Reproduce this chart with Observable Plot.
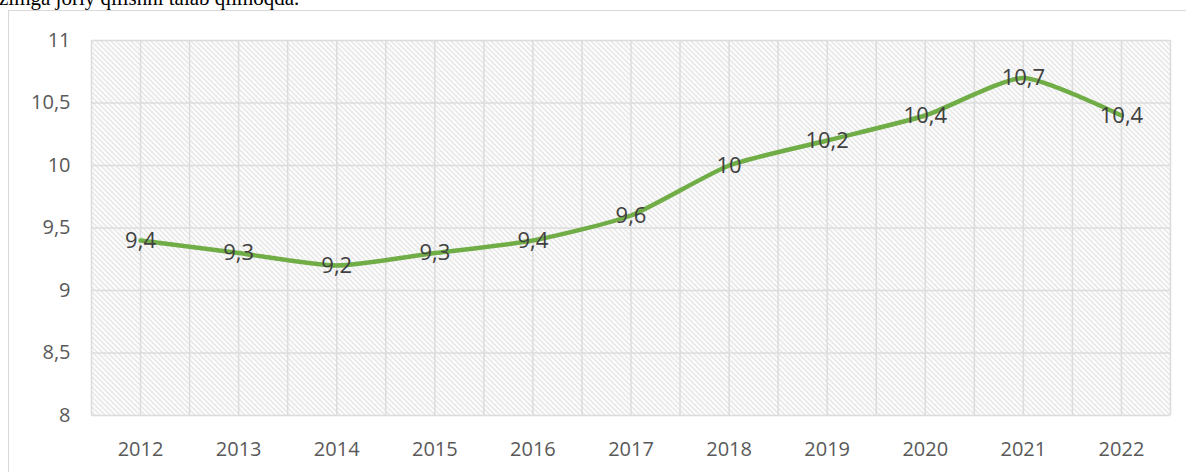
<!DOCTYPE html>
<html>
<head>
<meta charset="utf-8">
<script src="https://cdn.jsdelivr.net/npm/d3@7"></script>
<script src="https://cdn.jsdelivr.net/npm/@observablehq/plot@0.6"></script>
<style>
  html, body { margin: 0; padding: 0; background: #fff; }
  body { width: 1186px; height: 472px; overflow: hidden; position: relative; }
  #toptext { position: absolute; left: -1px; top: -12px; font-family: "Liberation Serif", serif; font-size: 21px; line-height: 21px; color: #000; white-space: nowrap; }
  #frame { position: absolute; left: 8px; top: 10px; width: 1200px; height: 500px; border: 1.5px solid #d9d9d9; box-sizing: border-box; }
  #chart { position: absolute; left: 0; top: 0; }
</style>
</head>
<body>
<div id="toptext">zimga joriy qilishni talab qilmoqda.</div>
<div id="frame"></div>
<div id="chart"></div>
<script>
const years = [2012, 2013, 2014, 2015, 2016, 2017, 2018, 2019, 2020, 2021, 2022];
const values = [9.4, 9.3, 9.2, 9.3, 9.4, 9.6, 10, 10.2, 10.4, 10.7, 10.4];
const yTicks = [8, 8.5, 9, 9.5, 10, 10.5, 11];

const data = years.map((year, i) => ({year, value: values[i]}));
const gridX = years.flatMap(y => [y - 0.5, y]).concat([years[years.length - 1] + 0.5]);
const fmt = d => String(d).replace(".", ",");

const plot = Plot.plot({
  width: 1186,
  height: 472,
  marginLeft: 91,
  marginRight: 16,
  marginTop: 40,
  marginBottom: 57,
  style: {fontFamily: "'Open Sans', sans-serif", fontSize: "20px", color: "#595959", background: "transparent", overflow: "visible"},
  x: {type: "linear", domain: [years[0] - 0.5, years[years.length - 1] + 0.5], ticks: years, tickFormat: d => String(d), label: null, tickSize: 0, tickPadding: 26},
  y: {domain: [yTicks[0], yTicks[yTicks.length - 1]], ticks: yTicks, tickFormat: fmt, label: null, tickSize: 0, tickPadding: 21},
  marks: [
    Plot.frame({fill: "url(#hatch)", stroke: null}),
    Plot.ruleX(gridX, {x: d => d, stroke: "#dcdcdc", strokeWidth: 1.5}),
    Plot.ruleY(yTicks, {y: d => d, stroke: "#dcdcdc", strokeWidth: 1.5}),
    Plot.line(data, {x: "year", y: "value", stroke: "#70AD47", strokeWidth: 4.5, curve: "cardinal", tension: 0.4, strokeLinecap: "round", strokeLinejoin: "round"}),
    Plot.text(data, {x: "year", y: "value", text: d => fmt(d.value), fill: "#404040", fontSize: 22})
  ]
});

const svg = d3.select(plot);
const defs = svg.insert("defs", ":first-child");
const w = 5;
defs.append("pattern")
  .attr("id", "hatch")
  .attr("patternUnits", "userSpaceOnUse")
  .attr("width", w).attr("height", w)
  .append("path")
  .attr("d", `M0,0L${w},${w}M-1,${w-1}L1,${w+1}M${w-1},-1L${w+1},1`)
  .attr("stroke", "#dadada")
  .attr("stroke-width", 1.2)
  .attr("fill", "none");

document.getElementById("chart").appendChild(plot);
</script>
</body>
</html>
